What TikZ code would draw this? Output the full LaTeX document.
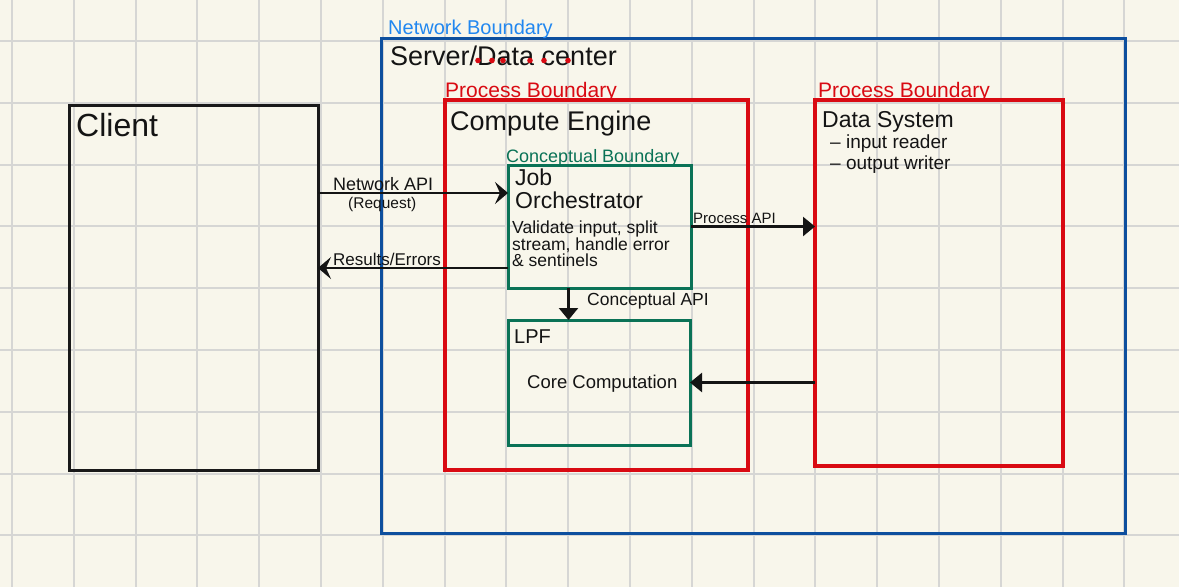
\documentclass[tikz,border=0pt]{standalone}
\usepackage{fontspec}
\setmainfont{Liberation Sans}
\usetikzlibrary{positioning,arrows.meta}
\definecolor{paper}{HTML}{F8F6EB}
\definecolor{gridgray}{HTML}{D6D6D4}
\definecolor{netblue}{HTML}{0D4F9E}
\definecolor{netlabel}{HTML}{2187F0}
\definecolor{procred}{HTML}{D90A12}
\definecolor{congreen}{HTML}{0A7256}

\begin{document}
\begin{tikzpicture}[x=1pt, y=-1pt,
        gridline/.style={draw=gridgray, line width=2pt},
        boundary/.style={draw, line width=3pt, inner sep=0pt, outer sep=0pt},
        clientbox/.style={boundary, draw=black!90},
        netbox/.style={boundary, draw=netblue},
        procbox/.style={boundary, draw=procred, line width=3.2pt},
        conbox/.style={boundary, draw=congreen},
        txt/.style={anchor=base west, inner sep=0pt, text=black!92},
        flow/.style={-{Triangle[length=12pt, width=19pt]}, line width=2.5pt, draw=black!92},
        openflow/.style={flow, -{Stealth[length=13pt, width=22pt, inset=5pt]}}
    ]
        \fill[paper] (0,0) rectangle (1179,587);
        \useasboundingbox (0,0) rectangle (1179,587);
        \foreach \k in {0,...,18} \draw[gridline] (12+61.8*\k,0) -- (12+61.8*\k,587);
        \foreach \k in {0,...,8} \draw[gridline] (0,41+61.8*\k) -- (1179,41+61.8*\k);

        \node[clientbox, minimum width=249pt, minimum height=365pt] (client) at (193.5,287.5) {};
        \node[netbox, minimum width=744pt, minimum height=495pt] (server) at (753,285.5) {};
        \node[procbox, minimum width=303pt, minimum height=370pt] (engine) at (596.5,285) {};
        \node[procbox, minimum width=248pt, minimum height=366pt] (datasys) at (939,283) {};
        \node[conbox, minimum width=183pt, minimum height=123pt] (orch) at (599.5,226.5) {};
        \node[conbox, minimum width=182pt, minimum height=125pt] (lpf) at (599,382.5) {};

        \node[txt, font=\fontsize{32}{34}\selectfont] (clientlbl) at (76,136) {Client};
        \node[txt, text=netlabel, font=\fontsize{20}{22}\selectfont] (serverbd) at (388,34) {Network Boundary};
        \node[txt, font=\fontsize{27}{30}\selectfont] (serverlbl) at (390,65) {Server/Data center};
        \foreach \dx in {478,492,503,530,544,568} \fill[procred] (\dx,60.5) circle (2.8pt);
        \node[txt, text=procred, font=\fontsize{21}{24}\selectfont] (enginebd) at (445,97) {Process Boundary};
        \node[txt, font=\fontsize{27}{30}\selectfont] (enginelbl) at (450,130) {Compute Engine};
        \node[txt, text=procred, font=\fontsize{21}{24}\selectfont] (databd) at (818,97) {Process Boundary};
        \node[txt, font=\fontsize{23}{25}\selectfont] (datalbl) at (822,127) {Data System};
        \node[txt, font=\fontsize{19}{21}\selectfont] (reader) at (830,148) {– input reader};
        \node[txt, font=\fontsize{19}{21}\selectfont] (writer) at (830,169) {– output writer};
        \node[txt, text=congreen, font=\fontsize{18}{20}\selectfont] (orchbd) at (506,162) {Conceptual Boundary};
        \node[txt, font=\fontsize{23}{25}\selectfont] (orchlbl) at (515,185) {Job};
        \node[txt, font=\fontsize{23}{25}\selectfont] (orchlbl2) at (515,208) {Orchestrator};
        \node[txt, anchor=north west, align=left, font=\fontsize{17.5}{16.5}\selectfont] (orchtask) at (512,221) {Validate input, split\\stream, handle error\\\& sentinels};
        \node[txt, font=\fontsize{20}{22}\selectfont] (lpflbl) at (514,343) {LPF};
        \node[txt, font=\fontsize{18.5}{20}\selectfont] (corelbl) at (527,388) {Core Computation};

        \node[txt, font=\fontsize{18}{20}\selectfont] (reqlbl) at (333,190) {Network API};
        \node[txt, font=\fontsize{15.5}{17}\selectfont] (reqlbl2) at (348,208) {(Request)};
        \node[txt, font=\fontsize{17}{19}\selectfont] (reslbl) at (333,265) {Results/Errors};
        \node[txt, font=\fontsize{15}{17}\selectfont] (proclbl) at (693,223) {Process API};
        \node[txt, font=\fontsize{17.5}{19}\selectfont] (conlbl) at (587,305) {Conceptual API};

        \coordinate (req) at ([yshift=-28pt]orch.north west);
        \coordinate (res) at ([yshift=20pt]orch.south west);
        \coordinate (capi) at ([xshift=-31pt]orch.south);
        \draw[openflow] (client.east |- req) -- (req);
        \draw[openflow] (res) -- (client.east |- res);
        \draw[flow] (orch.east) -- (orch.east -| datasys.west);
        \draw[flow] (capi) -- (capi |- lpf.north);
        \draw[flow] (lpf.east -| datasys.west) -- (lpf.east);
    \end{tikzpicture}
\end{document}
